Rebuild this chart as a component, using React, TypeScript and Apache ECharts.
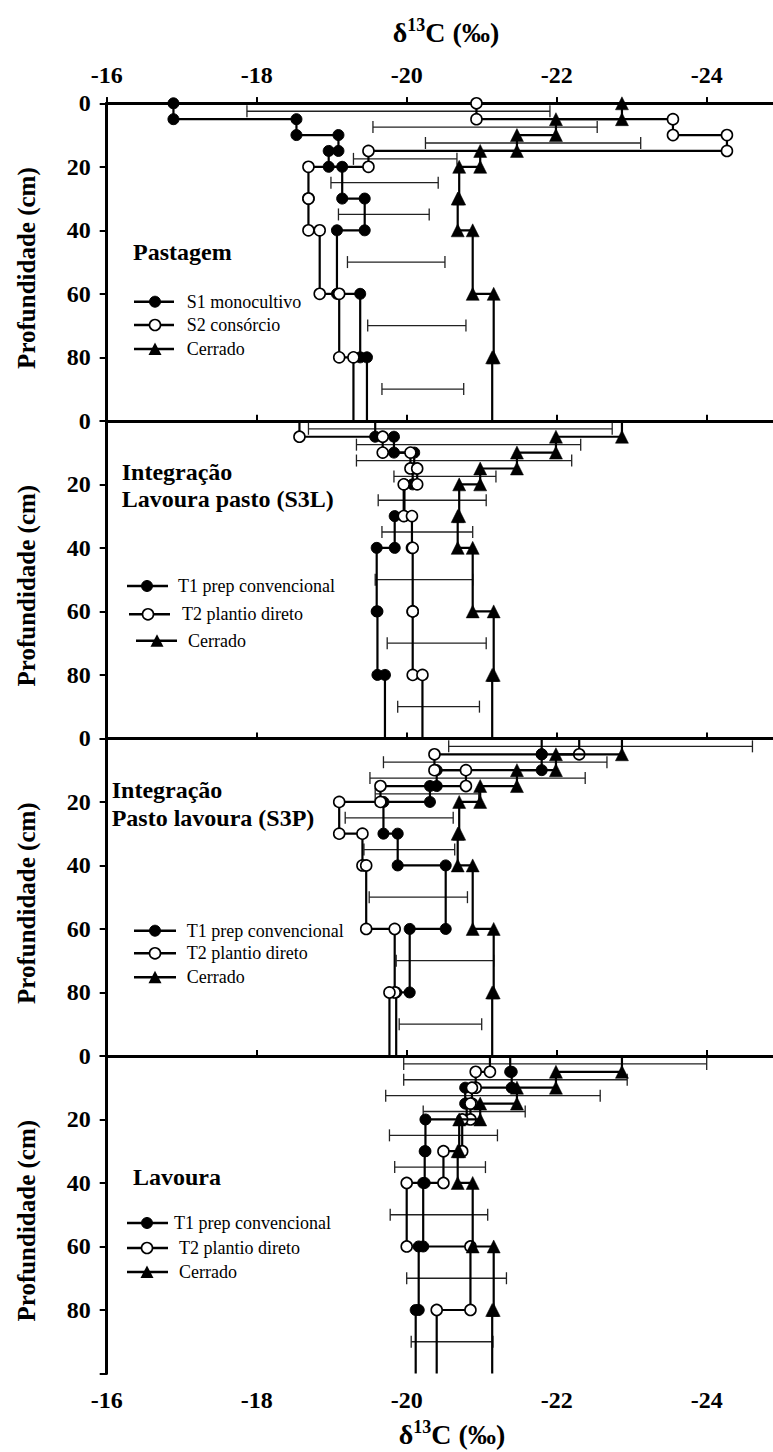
import React, { useEffect, useRef } from "react";
import * as echarts from "echarts";

// ---------- data ----------
const DEPTH_TOP = [0, 5, 10, 15, 20, 30, 40, 60, 80];
const DEPTH_BOTTOM = [5, 10, 15, 20, 30, 40, 60, 80, 100];
const BAR_DEPTH = [2.5, 7.5, 12.5, 17.5, 25, 35, 50, 70, 90];
const X_TICK_LABELS = [-16, -18, -20, -22, -24];

const CERRADO = [-22.87, -21.99, -21.47, -20.98, -20.7, -20.68, -20.88, -21.16, -21.14];

const PASTAGEM_S1 = [-16.89, -18.53, -19.09, -18.96, -19.14, -19.44, -19.07, -19.38, -19.47];
const PASTAGEM_S2 = [-20.93, -23.55, -24.27, -19.49, -18.69, -18.69, -18.84, -19.1, -19.29];
const PASTAGEM_BAR_LO = [-17.87, -19.55, -20.25, -19.29, -18.99, -19.09, -19.21, -19.48, -19.67];
const PASTAGEM_BAR_HI = [-21.91, -22.54, -23.12, -20.67, -20.42, -20.3, -20.51, -20.79, -20.76];

const S3L_T1 = [-19.58, -19.83, -20.1, -20.08, -19.97, -19.84, -19.6, -19.61, -19.71];
const S3L_T2 = [-18.57, -19.68, -20.05, -20.14, -19.96, -20.07, -20.08, -20.08, -20.21];
const S3L_BAR_LO = [-18.69, -19.33, -19.33, -19.83, -19.62, -19.67, -19.58, -19.74, -19.88];
const S3L_BAR_HI = [-22.74, -22.32, -22.2, -21.19, -21.06, -20.88, -20.88, -21.06, -20.97];

const S3P_T1 = [-21.8, -21.8, -20.4, -20.31, -19.69, -19.88, -20.52, -20.04, -19.86];
const S3P_T2 = [-22.3, -20.37, -20.79, -19.65, -19.1, -19.41, -19.46, -19.84, -19.77];
const S3P_BAR_LO = [-20.56, -19.69, -19.51, -19.58, -19.18, -19.43, -19.5, -19.86, -19.9];
const S3P_BAR_HI = [-24.61, -22.67, -22.38, -20.96, -20.62, -20.64, -20.81, -21.16, -21.0];

const LAVOURA_T1 = [-21.38, -21.4, -20.78, -20.8, -20.25, -20.24, -20.22, -20.16, -20.12];
const LAVOURA_T2 = [-21.11, -20.92, -20.87, -20.85, -20.74, -20.49, -20.0, -20.85, -20.4];
const LAVOURA_BAR_LO = [-19.96, -19.96, -19.72, -20.22, -19.77, -19.84, -19.78, -20.0, -20.06];
const LAVOURA_BAR_HI = [-24.0, -22.94, -22.58, -21.58, -21.21, -21.05, -21.08, -21.33, -21.15];

const NAMES_PASTAGEM = ["S1 monocultivo", "S2 consórcio", "Cerrado"];
const NAMES_TRAT = ["T1 prep convencional", "T2 plantio direto", "Cerrado"];

const PANEL_TITLES = [
  ["Pastagem"],
  ["Integração", "Lavoura pasto (S3L)"],
  ["Integração", "Pasto lavoura (S3P)"],
  ["Lavoura"],
];

const X_TITLE = "{a|δ}{b|13}{a|C (‰)}";
const Y_TITLE = "Profundidade (cm)";

// ---------- layout ----------
const FONT = "'Liberation Serif', 'Times New Roman', Times, serif";
const W = 773;
const H = 1452;
const GRID_LEFT = 106.7;
const GRID_WIDTH = 750; // -16 .. -26 (right part falls outside the picture)
const GRID_TOP = 103.3;
const PANEL_H = 317.55;

const PANELS = [
  {
    series: [PASTAGEM_S1, PASTAGEM_S2, CERRADO],
    names: NAMES_PASTAGEM,
    lo: PASTAGEM_BAR_LO,
    hi: PASTAGEM_BAR_HI,
    titleX: 133,
    titleY: [251.7],
    legend: [
      { y: 301.7, x1: 134, x2: 174, mx: 155, tx: 186.7 },
      { y: 325, x1: 134, x2: 174, mx: 155, tx: 186.7 },
      { y: 349, x1: 134, x2: 174, mx: 155, tx: 186.7 },
    ],
  },
  {
    series: [S3L_T1, S3L_T2, CERRADO],
    names: NAMES_TRAT,
    lo: S3L_BAR_LO,
    hi: S3L_BAR_HI,
    titleX: 121.7,
    titleY: [471.7, 499.3],
    legend: [
      { y: 586, x1: 127, x2: 168, mx: 147, tx: 178 },
      { y: 614.3, x1: 129, x2: 170, mx: 148, tx: 182 },
      { y: 640.7, x1: 136, x2: 177, mx: 157, tx: 188 },
    ],
  },
  {
    series: [S3P_T1, S3P_T2, CERRADO],
    names: NAMES_TRAT,
    lo: S3P_BAR_LO,
    hi: S3P_BAR_HI,
    titleX: 111.7,
    titleY: [790, 818.3],
    legend: [
      { y: 930.7, x1: 134, x2: 176, mx: 155, tx: 186.7 },
      { y: 953.3, x1: 134, x2: 176, mx: 155, tx: 186.7 },
      { y: 977.3, x1: 134, x2: 176, mx: 155, tx: 186.7 },
    ],
  },
  {
    series: [LAVOURA_T1, LAVOURA_T2, CERRADO],
    names: NAMES_TRAT,
    lo: LAVOURA_BAR_LO,
    hi: LAVOURA_BAR_HI,
    titleX: 133,
    titleY: [1177],
    legend: [
      { y: 1223, x1: 127, x2: 168, mx: 147, tx: 174 },
      { y: 1248, x1: 127, x2: 168, mx: 147, tx: 179 },
      { y: 1272, x1: 127, x2: 168, mx: 147, tx: 179 },
    ],
  },
];

const MARKERS = ["filled", "open", "tri"];

function stepData(values: number[], hideTop: boolean) {
  const pts: any[] = [];
  values.forEach((v, i) => {
    const top: any = { value: [v, DEPTH_TOP[i]] };
    if (i === 0 && hideTop) top.symbol = "none";
    pts.push(top);
    const bot: any = { value: [v, DEPTH_BOTTOM[i]] };
    if (DEPTH_BOTTOM[i] === 100) bot.symbol = "none";
    pts.push(bot);
  });
  return pts;
}

function markerStyle(kind: string) {
  if (kind === "filled")
    return { symbol: "circle", symbolSize: 11, itemStyle: { color: "#000", borderColor: "#000", borderWidth: 1 } };
  if (kind === "open")
    return { symbol: "circle", symbolSize: 11, itemStyle: { color: "#fff", borderColor: "#000", borderWidth: 1.6 } };
  return { symbol: "triangle", symbolSize: 13, itemStyle: { color: "#000", borderColor: "#000", borderWidth: 0.5 } };
}

function legendMarker(kind: string, x: number, y: number) {
  if (kind === "tri") {
    return {
      type: "polygon",
      shape: { points: [[x, y - 6.5], [x - 6.5, y + 6], [x + 6.5, y + 6]] },
      style: { fill: "#000" },
      z: 12,
    };
  }
  return {
    type: "circle",
    shape: { cx: x, cy: y, r: 5.5 },
    style: kind === "open" ? { fill: "#fff", stroke: "#000", lineWidth: 1.6 } : { fill: "#000", stroke: "#000", lineWidth: 1 },
    z: 12,
  };
}

const tickFormatter = (v: number) => (X_TICK_LABELS.indexOf(v) >= 0 ? String(v) : "");

function buildOption() {
  const grids: any[] = [];
  const xAxes: any[] = [];
  const yAxes: any[] = [];
  const series: any[] = [];
  const graphics: any[] = [];

  const axisLine = { show: true, lineStyle: { color: "#000", width: 3 } };
  const labelFont = { fontFamily: FONT, fontSize: 24, fontWeight: "bold", color: "#000" };

  PANELS.forEach((p, i) => {
    grids.push({
      left: GRID_LEFT,
      width: GRID_WIDTH,
      top: GRID_TOP + i * PANEL_H,
      height: PANEL_H,
      containLabel: false,
      outerBoundsMode: "none",
    });
    xAxes.push({
      gridIndex: i,
      type: "value",
      inverse: true,
      min: -26,
      max: -16,
      interval: 2,
      position: "bottom",
      axisLine,
      axisTick: { show: true, inside: true, length: 6, lineStyle: { color: "#000", width: 2 } },
      axisLabel: { show: i === 3, margin: 14, formatter: tickFormatter, ...labelFont },
      splitLine: { show: false },
    });
    yAxes.push({
      gridIndex: i,
      type: "value",
      inverse: true,
      min: 0,
      max: 100,
      interval: 20,
      axisLine,
      axisTick: { show: true, inside: false, length: 7, lineStyle: { color: "#000", width: 2 } },
      axisLabel: {
        margin: 16,
        formatter: (v: number) => (v === 100 ? "" : String(v)),
        ...labelFont,
      },
      splitLine: { show: false },
    });

    // error bars
    series.push({
      type: "custom",
      xAxisIndex: i,
      yAxisIndex: i,
      z: 1,
      clip: false,
      data: p.lo.map((lo, k) => [lo, p.hi[k], BAR_DEPTH[k]]),
      encode: { x: [0, 1], y: 2 },
      renderItem: (params: any, api: any) => {
        const a = api.coord([api.value(0), api.value(2)]);
        const b = api.coord([api.value(1), api.value(2)]);
        const h = 6;
        const st = { stroke: "#222", lineWidth: 1.3 };
        return {
          type: "group",
          children: [
            { type: "line", shape: { x1: a[0], y1: a[1], x2: b[0], y2: b[1] }, style: st },
            { type: "line", shape: { x1: a[0], y1: a[1] - h, x2: a[0], y2: a[1] + h }, style: st },
            { type: "line", shape: { x1: b[0], y1: b[1] - h, x2: b[0], y2: b[1] + h }, style: st },
          ],
        };
      },
    });

    // step profiles
    p.series.forEach((vals, k) => {
      series.push({
        type: "line",
        name: p.names[k],
        xAxisIndex: i,
        yAxisIndex: i,
        z: 3 + k,
        clip: false,
        showSymbol: true,
        showAllSymbol: true,
        lineStyle: { color: "#000", width: 2.2 },
        ...markerStyle(MARKERS[k]),
        data: stepData(vals, i > 0),
      });
    });

    // panel titles
    p.titleY.forEach((ty, k) => {
      graphics.push({
        type: "text",
        x: p.titleX,
        y: ty,
        z: 10,
        style: {
          text: PANEL_TITLES[i][k],
          fontFamily: FONT,
          fontSize: 24,
          fontWeight: "bold",
          fill: "#000",
          align: "left",
          verticalAlign: "middle",
        },
      });
    });

    // legends
    p.legend.forEach((row, k) => {
      graphics.push({
        type: "line",
        shape: { x1: row.x1, y1: row.y, x2: row.x2, y2: row.y },
        style: { stroke: "#000", lineWidth: 2.4 },
        z: 11,
      });
      graphics.push(legendMarker(MARKERS[k], row.mx, row.y));
      graphics.push({
        type: "text",
        x: row.tx,
        y: row.y,
        z: 11,
        style: {
          text: p.names[k],
          fontFamily: FONT,
          fontSize: 18,
          fill: "#000",
          align: "left",
          verticalAlign: "middle",
        },
      });
    });

    // y-axis title
    graphics.push({
      type: "text",
      x: 26,
      y: GRID_TOP + i * PANEL_H + PANEL_H / 2 + 6,
      rotation: Math.PI / 2,
      z: 10,
      style: {
        text: Y_TITLE,
        fontFamily: FONT,
        fontSize: 25,
        fontWeight: "bold",
        fill: "#000",
        align: "center",
        verticalAlign: "middle",
      },
    });
  });

  // top axis of the first panel
  xAxes.push({
    gridIndex: 0,
    type: "value",
    inverse: true,
    min: -26,
    max: -16,
    interval: 2,
    position: "top",
    axisLine,
    axisTick: { show: true, inside: false, length: 6, lineStyle: { color: "#000", width: 2 } },
    axisLabel: { show: true, margin: 16, formatter: tickFormatter, ...labelFont },
    splitLine: { show: false },
  });

  const rich = {
    a: { fontFamily: FONT, fontSize: 28, fontWeight: "bold", fill: "#000", lineHeight: 32 },
    b: { fontFamily: FONT, fontSize: 18, fontWeight: "bold", fill: "#000", lineHeight: 18, verticalAlign: "top" },
  };
  graphics.push({
    type: "text",
    x: 446,
    y: 32,
    z: 10,
    style: { text: X_TITLE, rich, align: "center", verticalAlign: "middle", fill: "#000" },
  });
  graphics.push({
    type: "text",
    x: 452,
    y: 1434,
    z: 10,
    style: { text: X_TITLE, rich, align: "center", verticalAlign: "middle", fill: "#000" },
  });

  return {
    animation: false,
    backgroundColor: "#fff",
    grid: grids,
    xAxis: xAxes,
    yAxis: yAxes,
    series,
    graphic: graphics,
  };
}

export default function App() {
  const ref = useRef<HTMLDivElement>(null);
  useEffect(() => {
    if (!ref.current) return;
    const chart = echarts.init(ref.current, null, { renderer: "svg", width: W, height: H });
    chart.setOption(buildOption() as any);
    return () => chart.dispose();
  }, []);
  return (
    <div
      ref={ref}
      style={{ position: "absolute", left: 0, top: 0, width: W, height: H, background: "#fff", overflow: "hidden" }}
    />
  );
}
